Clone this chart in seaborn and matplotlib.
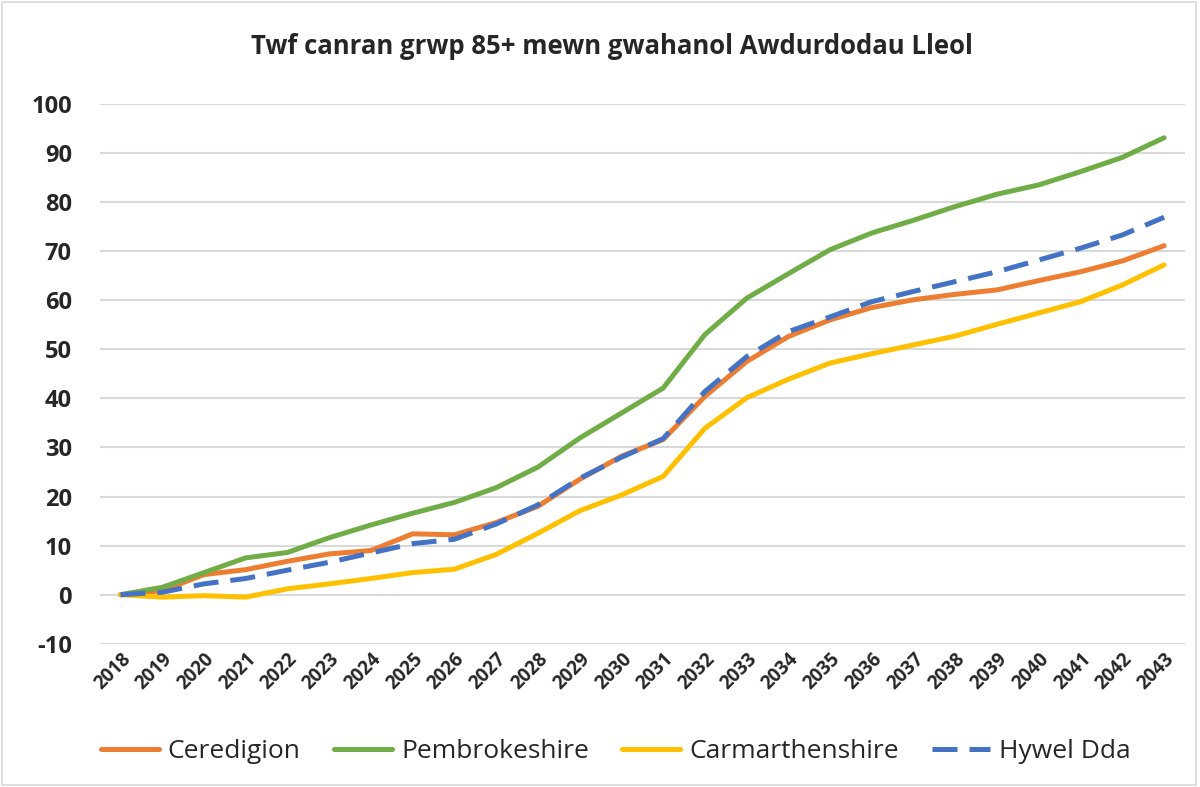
import matplotlib
matplotlib.use("Agg")
import matplotlib.pyplot as plt
import pandas as pd
import seaborn as sns
from matplotlib.patches import Rectangle

years = list(range(2018, 2044))
ceredigion = [0, 0.8, 4.1, 5.1, 6.8, 8.3, 9.0, 12.4, 12.2, 14.7, 18.0, 23.5, 28.2,
              31.6, 40.4, 47.5, 52.6, 56.0, 58.5, 60.1, 61.2, 62.1, 64.0, 65.8, 68.0, 71.1]
pembrokeshire = [0, 1.5, 4.5, 7.5, 8.6, 11.6, 14.2, 16.6, 18.8, 21.8, 26.0, 31.9, 37.0,
                 42.1, 53.0, 60.4, 65.4, 70.3, 73.7, 76.3, 79.1, 81.6, 83.5, 86.2, 89.1, 93.1]
carmarthenshire = [0, -0.5, -0.2, -0.5, 1.2, 2.2, 3.3, 4.5, 5.2, 8.2, 12.5, 17.1, 20.3,
                   24.1, 33.9, 40.1, 43.9, 47.2, 49.1, 50.9, 52.7, 55.1, 57.4, 59.7, 63.1, 67.2]
hywel_dda = [0, 0.5, 2.2, 3.3, 5.0, 6.6, 8.5, 10.4, 11.3, 14.4, 18.3, 23.7, 28.0,
             31.8, 41.4, 48.5, 53.6, 56.6, 59.7, 61.8, 63.8, 65.8, 68.2, 70.6, 73.3, 76.9]

areas = ["Ceredigion", "Pembrokeshire", "Carmarthenshire", "Hywel Dda"]
colors = {"Ceredigion": "#ED7D31", "Pembrokeshire": "#70AD47",
          "Carmarthenshire": "#FFC000", "Hywel Dda": "#4472C4"}
dashes = {"Ceredigion": "", "Pembrokeshire": "", "Carmarthenshire": "",
          "Hywel Dda": (5, 2.4)}

df = pd.DataFrame({
    "Year": years * 4,
    "Value": ceredigion + pembrokeshire + carmarthenshire + hywel_dda,
    "Area": [a for a in areas for _ in years],
})

sns.set_theme(style="white")
plt.rcParams["font.family"] = ["Open Sans", "DejaVu Sans"]
plt.rcParams["axes.unicode_minus"] = False

fig = plt.figure(figsize=(12, 7.87), dpi=100)
ax = fig.add_axes([0.083, 0.182, 0.9045, 0.686])

sns.lineplot(data=df, x="Year", y="Value", hue="Area", style="Area",
             palette=colors, dashes=dashes, hue_order=areas, style_order=areas,
             linewidth=3.6, ax=ax, legend=False)

ax.set_xlim(2017.5, 2043.5)
ax.set_ylim(-10, 100)
ax.set_yticks(range(-10, 101, 10))
ax.set_xticks(years)
ax.set_xticklabels([str(y) for y in years], rotation=45, ha="right",
                   rotation_mode="anchor", fontsize=13.5, fontweight="bold")
ax.tick_params(axis="y", labelsize=17, pad=14)
for t in ax.get_yticklabels():
    t.set_fontweight("bold")
ax.tick_params(axis="x", pad=4, length=0)
ax.grid(axis="y", color="#d9d9d9", linewidth=1.5)
ax.set_axisbelow(True)
for s in ax.spines.values():
    s.set_visible(False)
ax.set_xlabel("")
ax.set_ylabel("")

fig.suptitle("Twf canran grwp 85+ mewn gwahanol Awdurdodau Lleol",
             x=0.51, y=0.958, fontsize=18.5, fontweight="bold")

handles = [plt.Line2D([], [], color=colors[a], linewidth=3.6,
                      dashes=dashes[a] if dashes[a] else (None, None)) for a in areas]
fig.legend(handles, areas, loc="center", bbox_to_anchor=(0.513, 0.045), ncol=4,
           frameon=False, fontsize=19, handlelength=2.2, columnspacing=1.25,
           handletextpad=0.35)

fig.patches.append(Rectangle((0.002, 0.002), 0.995, 0.996, transform=fig.transFigure,
                             fill=False, edgecolor="#d9d9d9", linewidth=1.2))

fig.savefig("out.png", dpi=100)
